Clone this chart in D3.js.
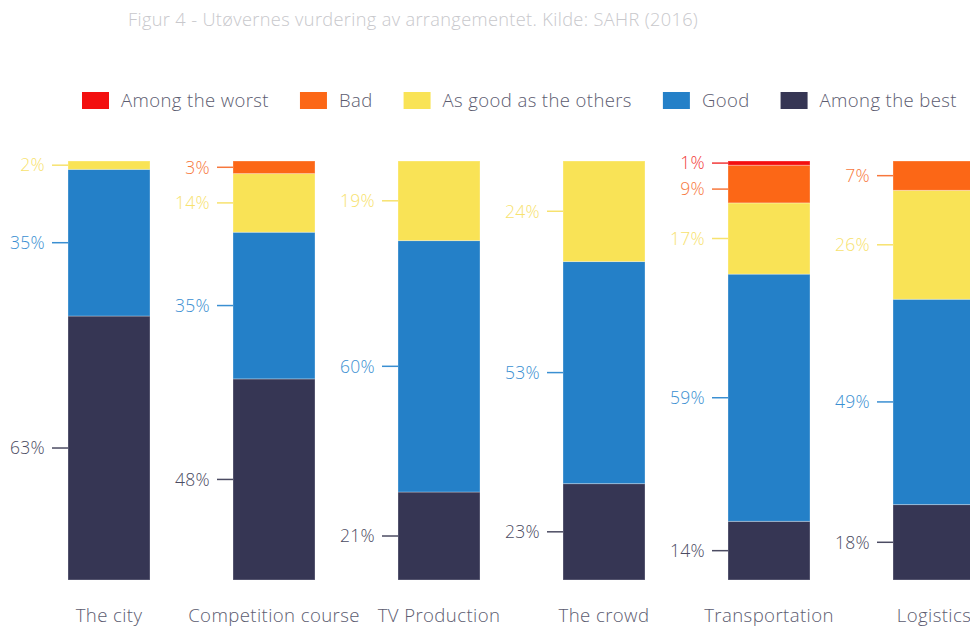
<!DOCTYPE html>
<html>
<head>
<meta charset="utf-8">
<script src="https://cdn.jsdelivr.net/npm/d3@7"></script>
<style>
  html, body { margin: 0; padding: 0; background: #fff; }
  svg { display: block; font-family: "Open Sans", "DejaVu Sans", sans-serif; font-weight: 300; }
</style>
</head>
<body>
<svg id="chart" width="970" height="626"></svg>
<script>
// Categories rated by the athletes
const categories = ["The city", "Competition course", "TV Production", "The crowd", "Transportation", "Logistics"];

// Rating shares (%) per category
const amongTheWorst = [0, 0, 0, 0, 1, 0];
const bad           = [0, 3, 0, 0, 9, 7];
const asGood        = [2, 14, 19, 24, 17, 26];
const good          = [35, 35, 60, 53, 59, 49];
const amongTheBest  = [63, 48, 21, 23, 14, 18];

const seriesNames = ["Among the worst", "Bad", "As good as the others", "Good", "Among the best"];
const seriesValues = [amongTheWorst, bad, asGood, good, amongTheBest];

const title = "Figur 4 - Utøvernes vurdering av arrangementet. Kilde: SAHR (2016)";

// Colours
const barColors   = ["#f30f0f", "#fc6716", "#f9e356", "#2480c8", "#363654"];
const labelColors = ["#f23a3a", "#f7773c", "#f7e26e", "#3a8fd2", "#4b4b62"];
const textColor = "#5c5c70";

const svg = d3.select("#chart");

// Title
svg.append("text")
  .attr("x", 128).attr("y", 26)
  .attr("font-size", 18.2)
  .attr("letter-spacing", 0.35)
  .attr("fill", "#c8c8cc")
  .text(title);

// Legend
const legend = svg.append("g").attr("class", "legend");
let lx = 82;
seriesNames.forEach((name, i) => {
  legend.append("rect")
    .attr("x", lx).attr("y", 92)
    .attr("width", 27).attr("height", 17)
    .attr("fill", barColors[i]);
  const t = legend.append("text")
    .attr("x", lx + 39).attr("y", 107)
    .attr("font-size", 18.5)
    .attr("letter-spacing", 0.4)
    .attr("fill", textColor)
    .text(name);
  lx += 39 + t.node().getComputedTextLength() + 31;
});

// Build table for stacking (bottom = Among the best)
const table = categories.map((c, j) => {
  const row = { category: c };
  seriesNames.forEach((s, i) => { row[s] = seriesValues[i][j]; });
  return row;
});
const stackKeys = seriesNames.slice().reverse();
const stacked = d3.stack().keys(stackKeys)(table);

const x = d3.scaleBand()
  .domain(categories)
  .range([68, 68 + 5 * 165 + 82])
  .paddingInner(83 / 165)
  .paddingOuter(0);

const y = d3.scaleLinear().domain([0, 100]).range([580, 161]);

const colorOf = d3.scaleOrdinal().domain(seriesNames).range(barColors);
const labelColorOf = d3.scaleOrdinal().domain(seriesNames).range(labelColors);

// Bars
const layers = svg.append("g").attr("class", "bars")
  .selectAll("g")
  .data(stacked)
  .join("g")
  .attr("fill", d => colorOf(d.key));

layers.selectAll("rect")
  .data(d => d.filter(p => p[1] - p[0] > 0))
  .join("rect")
  .attr("x", p => x(p.data.category))
  .attr("width", x.bandwidth())
  .attr("y", p => y(p[1]))
  .attr("height", p => y(p[0]) - y(p[1]))
  .attr("stroke", "rgba(255,255,255,0.3)")
  .attr("stroke-width", 1);

// Value labels with leader ticks to the left of each bar.
// Labels sit at segment midpoints, pushed down when they would crowd the one above.
const labelGap = 26;
const labels = svg.append("g").attr("class", "value-labels");
categories.forEach((cat, j) => {
  const items = [];
  // top-most segment first
  stacked.slice().reverse().forEach(layer => {
    const p = layer[j];
    const v = p[1] - p[0];
    if (v <= 0) return;
    items.push({ key: layer.key, v, y: y((p[0] + p[1]) / 2), yMax: y(p[0]) });
  });
  let prev = -Infinity;
  items.forEach(it => {
    if (it.y < prev + labelGap) it.y = Math.min(prev + labelGap, it.yMax - 2);
    prev = it.y;
  });
  const x0 = x(cat);
  items.forEach(it => {
    const c = labelColorOf(it.key);
    labels.append("line")
      .attr("x1", x0 - 16).attr("x2", x0)
      .attr("y1", it.y).attr("y2", it.y)
      .attr("stroke", c).attr("stroke-width", 1.5);
    labels.append("text")
      .attr("x", x0 - 23).attr("y", it.y)
      .attr("dy", "0.36em")
      .attr("text-anchor", "end")
      .attr("font-size", 17.5)
      .attr("letter-spacing", 0.3)
      .attr("fill", c)
      .text(it.v + "%");
  });
});

// Category axis
const xAxis = svg.append("g")
  .attr("transform", "translate(0,622)")
  .call(d3.axisBottom(x).tickSize(0).tickPadding(0));
xAxis.select(".domain").remove();
xAxis.selectAll("text")
  .attr("dy", 0)
  .attr("font-size", 18.6)
  .attr("letter-spacing", 0.4)
  .attr("font-family", "\"Open Sans\", \"DejaVu Sans\", sans-serif")
  .attr("font-weight", 300)
  .attr("fill", textColor);
</script>
</body>
</html>
